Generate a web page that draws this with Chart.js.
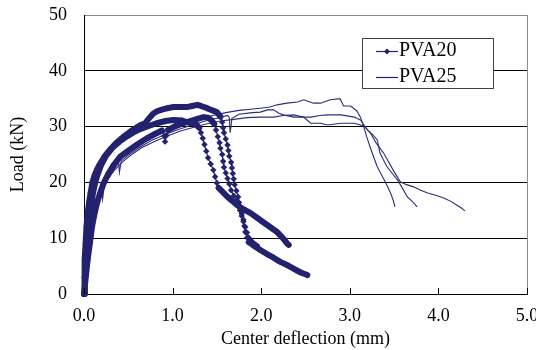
<!DOCTYPE html>
<html>
<head>
<meta charset="utf-8">
<script src="https://cdn.jsdelivr.net/npm/chart.js@4"></script>
<style>
  html, body { margin: 0; padding: 0; background: #fff; }
  #wrap { width: 536px; height: 350px; }
</style>
</head>
<body>
<div id="wrap"><canvas id="chart" width="536" height="350"></canvas></div>
<script>
// center deflection (mm), load (kN)
const pva20A = [[0,0],[0.01,3],[0.022,6],[0.035,9],[0.05,12],[0.068,14.5],[0.088,16.8],[0.11,18.8],[0.14,20.8],[0.19,23.0],[0.25,24.8],[0.32,26.2],[0.4,27.3],[0.48,28.2],[0.56,29],[0.64,29.6],[0.73,30.1],[0.82,30.6],[0.92,31],[1.01,31.2],[1.1,31.1],[1.16,30.8],[1.22,30.6],[1.27,30.3],[1.30,29.8],
  [1.32,28.9],[1.34,27.9],[1.36,26.8],[1.38,25.6],[1.40,24.4],[1.43,23.3],[1.46,22.2],[1.48,21.0],[1.50,19.9],[1.52,19.0],
  [1.57,18.2],[1.62,17.4],[1.68,16.6],[1.73,15.9],[1.80,15.2],[1.88,14.5],[1.95,13.7],[2.02,12.9],[2.10,12.0],[2.18,11.1],[2.24,10.1],[2.29,9.1],[2.31,8.8]];
const pva20B = [[0,0],[0.004,3],[0.01,6],[0.018,9],[0.028,12],[0.042,14.5],[0.058,16.5],[0.075,18.2],[0.095,20],[0.12,21.3],[0.15,22.4],[0.18,23.3],[0.23,24.6],[0.29,25.8],[0.36,27],[0.44,28.1],[0.53,29.2],[0.63,30.2],[0.69,30.6],[0.74,31.6],[0.78,32.3],[0.82,32.7],[0.87,33.0],[0.94,33.3],[1.01,33.5],[1.09,33.5],[1.16,33.5],[1.22,33.7],[1.28,33.9],[1.32,33.7],[1.39,33.3],[1.45,32.9],[1.50,32.6],[1.54,31.8],
  [1.56,30.8],[1.57,29.8],[1.58,28.9],[1.60,27.8],[1.62,26.7],[1.63,25.7],[1.64,24.7],[1.66,23.6],[1.67,22.6],[1.68,21.6],[1.69,20.6],[1.70,19.6],[1.72,18.5],[1.74,17.4],[1.75,16.4],[1.76,15.6],[1.78,14.4],[1.80,13.3],[1.81,12.2],[1.82,11.1],[1.84,10.1],[1.86,9.3],
  [1.88,9.1],[1.93,8.5],[1.99,7.9],[2.06,7.2],[2.14,6.5],[2.21,5.8],[2.29,5.2],[2.37,4.5],[2.44,3.9],[2.52,3.4]];
const pva20C = [[0,0],[0.02,3],[0.04,6],[0.065,9],[0.09,12],[0.12,14.5],[0.15,16.5],[0.18,18.0],[0.22,19.8],[0.27,21.4],[0.33,23.0],[0.41,24.6],[0.5,25.7],[0.6,26.8],[0.71,27.9],[0.8,28.7],[0.88,29.3],
  [0.905,28.3],[0.915,27.3],[0.93,28.4],[0.95,29.4],[1.02,30.0],[1.12,30.6],[1.2,31.0],[1.28,31.4],[1.35,31.7],[1.40,31.6],[1.44,31.1],[1.47,30.5],
  [1.49,29.4],[1.51,28.2],[1.53,27.1],[1.54,26.1],[1.56,25.0],[1.57,23.8],[1.58,22.7],[1.60,21.7],[1.62,20.7],[1.64,19.7],[1.66,18.6],[1.69,17.6],[1.72,16.8],[1.74,16.0],[1.76,15.0],[1.78,14.0],[1.80,13.0],[1.82,12.0],[1.84,11.0],[1.86,10.1],[1.88,9.5],[1.92,8.9],[1.95,8.6]];

const pva25A = [[0,0],[0.02,3],[0.04,6],[0.062,9],[0.088,12],[0.118,15],[0.16,17.8],[0.21,20.2],[0.28,22],[0.36,23.5],[0.45,24.8],[0.56,26.1],[0.7,27.4],[0.85,28.6],[1.0,29.6],[1.15,30.5],[1.3,31.3],[1.45,32],[1.6,32.5],[1.75,32.9],[1.88,33.1],
  [1.99,33.3],[2.10,33.5],[2.18,33.9],[2.29,34.2],[2.41,34.4],[2.48,34.8],[2.59,34.2],[2.67,34.2],[2.78,34.8],[2.89,35.0],[2.93,33.7],[3.01,33.7],[3.08,32.8],[3.12,31.7],[3.15,30.3],
  [3.19,28.2],[3.23,26.3],[3.27,24.5],[3.31,22.8],[3.36,21.3],[3.40,20.1],[3.46,18.1],[3.49,16.8],[3.51,15.6]];
const pva25B = [[0,0],[0.022,3],[0.044,6],[0.068,9],[0.095,12],[0.128,15],[0.17,17.5],[0.22,19.6],[0.29,21.4],[0.36,22.8],[0.39,23.6],[0.40,21.8],[0.42,23.8],[0.5,24.9],[0.62,26.2],[0.76,27.5],[0.9,28.5],[1.05,29.4],[1.2,30.2],[1.35,30.9],[1.5,31.5],[1.62,32.0],[1.64,31.6],[1.65,28.9],[1.67,31.5],[1.75,32.2],[1.9,32.5],
  [1.99,32.6],[2.07,33.0],[2.14,33.0],[2.20,32.4],[2.25,32.1],[2.37,31.7],[2.47,31.7],[2.56,31.7],[2.66,32.0],[2.75,32.1],[2.90,32.1],[3.05,31.7],[3.12,31.2],[3.20,29.4],
  [3.26,28.5],[3.31,27.6],[3.34,25.3],[3.38,24.0],[3.42,22.8],[3.48,21.6],[3.54,20.4],[3.60,18.8],[3.65,17.4],[3.71,16.5],[3.76,15.6]];
const pva25C = [[0,0],[0.024,3],[0.048,6],[0.074,9],[0.103,12],[0.135,14.8],[0.175,17.3],[0.2,18.8],[0.21,17.0],[0.225,19.0],[0.27,20.6],[0.34,22.1],[0.43,23.6],[0.53,24.9],[0.65,26.2],[0.79,27.3],[0.94,28.3],[1.09,29.2],[1.24,29.9],[1.39,30.5],[1.54,31],[1.69,31.3],[1.84,31.6],
  [1.99,31.7],[2.14,31.7],[2.25,32.0],[2.36,32.1],[2.48,31.7],[2.53,31.0],[2.56,30.6],[2.67,30.6],[2.75,30.3],[2.90,30.6],[3.05,30.6],[3.16,30.1],
  [3.23,28.9],[3.30,27.0],[3.38,25.3],[3.44,23.6],[3.49,22.2],[3.57,20.1],[3.64,19.6],[3.72,19.2],[3.80,18.6],[3.88,18.1],[3.97,17.7],[4.06,17.2],[4.14,16.6],[4.21,15.9],[4.26,15.4],[4.30,14.9]];

const seriesNames = ['PVA20', 'PVA25'];
const xTicks = [0, 1, 2, 3, 4, 5];
const yTicks = [0, 10, 20, 30, 40, 50];

const navy = '#22226e';
const serif = "'Liberation Serif', 'Times New Roman', serif";

const toXY = pts => pts.map(p => ({ x: p[0], y: p[1] }));

// dense runs of markers merge into a thick band; steep drops show single diamonds
function bandWidth(pts) {
    return function (ctx) {
        const a = pts[ctx.p0DataIndex], b = pts[ctx.p1DataIndex];
        const s = (b[1] - a[1]) / ((b[0] - a[0]) || 1e-6);
        return (a[0] > 0.5 && Math.abs(s) > 22) ? 1.2 : 6;
    };
}

function pva20Set(pts) {
    return {
        label: seriesNames[0], data: toXY(pts), showLine: true, clip: false,
        borderColor: navy, backgroundColor: navy, borderWidth: 1.2,
        borderJoinStyle: 'round', borderCapStyle: 'round',
        segment: { borderWidth: bandWidth(pts) },
        pointStyle: 'rectRot', pointRadius: 3.2, pointBorderWidth: 0,
        pointBackgroundColor: navy
    };
}

function pva25Set(pts) {
    return {
        label: seriesNames[1], data: toXY(pts), showLine: true,
        borderColor: '#2c2c7c', borderWidth: 1.1, pointRadius: 0
    };
}

const legendBox = {
    id: 'legendBox',
    afterDraw(chart) {
        const c = chart.ctx;
        c.save();
        c.fillStyle = '#fff';
        c.fillRect(362, 38, 132, 51);
        c.strokeStyle = '#404040';
        c.lineWidth = 1;
        c.strokeRect(362.5, 38.5, 131, 50);
        c.strokeStyle = navy;
        c.lineWidth = 1.2;
        c.beginPath(); c.moveTo(376, 51.5); c.lineTo(398, 51.5); c.stroke();
        c.beginPath(); c.moveTo(376, 77.5); c.lineTo(398, 77.5); c.stroke();
        c.fillStyle = navy;
        c.beginPath();
        c.moveTo(387, 48.5); c.lineTo(390, 51.5); c.lineTo(387, 54.5); c.lineTo(384, 51.5);
        c.closePath(); c.fill();
        c.fillStyle = '#000';
        c.font = '20px ' + serif;
        c.textBaseline = 'middle';
        c.fillText(seriesNames[0], 399, 51);
        c.fillText(seriesNames[1], 399, 77);
        c.restore();
    }
};

// small tick marks on the x axis pointing into the plot
const innerTicks = {
    id: 'innerTicks',
    afterDraw(chart) {
        const c = chart.ctx, sx = chart.scales.x, bottom = chart.chartArea.bottom;
        c.save();
        c.strokeStyle = '#000';
        c.lineWidth = 1;
        xTicks.forEach(v => {
            const px = Math.round(sx.getPixelForValue(v)) + 0.5;
            c.beginPath(); c.moveTo(px, bottom); c.lineTo(px, bottom - 6); c.stroke();
        });
        c.restore();
    }
};

new Chart(document.getElementById('chart'), {
    type: 'scatter',
    data: {
        datasets: [
            pva20Set(pva20A), pva20Set(pva20B), pva20Set(pva20C),
            pva25Set(pva25A), pva25Set(pva25B), pva25Set(pva25C)
        ]
    },
    options: {
        responsive: false,
        animation: false,
        layout: { padding: { top: 15, right: 9, left: 0, bottom: 0 } },
        plugins: { legend: { display: false }, tooltip: { enabled: false } },
        scales: {
            x: {
                type: 'linear', min: 0, max: 5,
                afterBuildTicks: s => { s.ticks = xTicks.map(v => ({ value: v })); },
                afterFit: s => { s.height = 56; s.paddingLeft = 0; s.paddingRight = 0; },
                ticks: {
                    color: '#000', padding: 11, maxRotation: 0,
                    font: { family: serif, size: 18 },
                    callback: v => Number(v).toFixed(1)
                },
                grid: {
                    drawTicks: false,
                    color: ctx => ctx.tick && ctx.tick.value === 5 ? '#8a8a8a' : 'rgba(0,0,0,0)'
                },
                border: { color: '#000', width: 1 },
                title: {
                    display: true, text: 'Center deflection (mm)', color: '#000',
                    font: { family: serif, size: 18 }, padding: { top: 0, bottom: 0 }
                }
            },
            y: {
                type: 'linear', min: 0, max: 50,
                afterBuildTicks: s => { s.ticks = yTicks.map(v => ({ value: v })); },
                afterFit: s => { s.width = 84; s.paddingTop = 0; s.paddingBottom = 0; },
                ticks: {
                    color: '#000', padding: 17,
                    font: { family: serif, size: 18 }
                },
                grid: {
                    drawTicks: false,
                    color: ctx => ctx.tick && ctx.tick.value === 50 ? '#8a8a8a' : '#000'
                },
                border: { color: '#000', width: 1 },
                title: {
                    display: true, text: 'Load (kN)', color: '#000',
                    font: { family: serif, size: 18 }, padding: { top: 7, bottom: 0 }
                }
            }
        }
    },
    plugins: [innerTicks, legendBox]
});
</script>
</body>
</html>
